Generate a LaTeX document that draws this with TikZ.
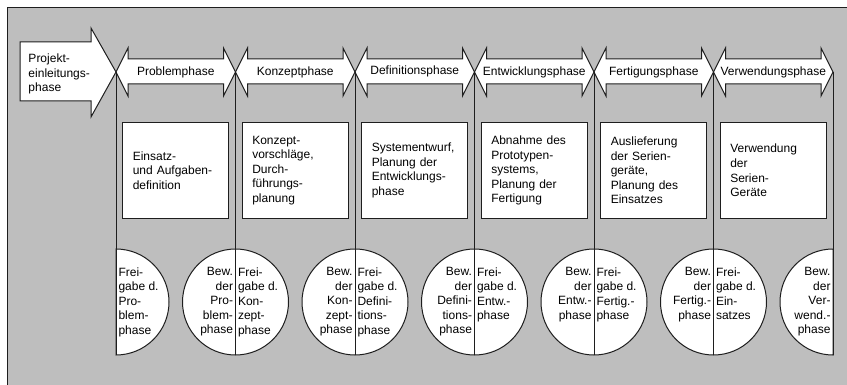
\documentclass[tikz,border=0pt]{standalone}
\usepackage{fontspec}
\setmainfont{Liberation Sans}
\definecolor{bg}{RGB}{190,190,190}
\definecolor{ln}{RGB}{30,30,30}
\begin{document}
\begin{tikzpicture}[x=0.75pt,y=-0.75pt,line width=0.75pt,
  every node/.style={font=\fontsize{9}{10.9}\selectfont,text=black},
  arrowshape/.style={draw=ln,fill=white,line join=miter},
  taskbox/.style={draw=ln,fill=white,minimum width=79.5pt,minimum height=71.25pt,text width=64.5pt,inner xsep=7.5pt,align=left},
  gatecircle/.style={draw=ln,fill=white},
  freitext/.style={anchor=north west,inner sep=0pt,align=left},
  bewtext/.style={anchor=north east,inner sep=0pt,align=right},
  phaselabel/.style={inner sep=0pt}]
\useasboundingbox (0,0) rectangle (847,385);
\fill[bg] (7,8) rectangle (847,385);
\draw[ln] (7,385) -- (7,8) -- (847,8);

% tips
\foreach \i in {0,...,6}{
  \pgfmathsetmacro\xx{116+119.5*\i}
  \coordinate (t\i) at (\xx,72);
  \coordinate (c\i) at (\xx,302);
  \coordinate (b\i) at (\xx,355);
}

% initial big arrow
\draw[arrowshape] (20,42) -- (91,42) -- (91,28) -- (116,72) -- (91,117) -- (91,101) -- (20,101) -- cycle;
\node[anchor=west,align=left,inner sep=0pt] (proj) at (28,74) {Projekt-\\einleitungs-\\phase};

% double arrows
\foreach \i in {0,...,5}{
  \pgfmathsetmacro\xa{116+119.5*\i}
  \pgfmathsetmacro\xb{\xa+119.5}
  \draw[arrowshape] (\xa,72) -- (\xa+12,48) -- (\xa+12,59) -- (\xb-12,59) -- (\xb-12,48) -- (\xb,72)
     -- (\xb-12,96) -- (\xb-12,84) -- (\xa+12,84) -- (\xa+12,96) -- cycle;
}
\node[phaselabel] (p0) at (175.75,72) {Problemphase};
\node[phaselabel] (p1) at (295.25,72) {Konzeptphase};
\node[phaselabel] (p2) at (414.75,71) {Definitionsphase};
\node[phaselabel] (p3) at (534.25,72) {Entwicklungsphase};
\node[phaselabel] (p4) at (653.75,72) {Fertigungsphase};
\node[phaselabel] (p5) at (773.25,72) {Verwendungsphase};

% task boxes
\node[taskbox] (box0) at (175.75,170.5) {Einsatz-\\und Aufgaben-\\definition};
\node[taskbox] (box1) at (295.25,170.5) {Konzept-\\vorschläge,\\Durch-\\führungs-\\planung};
\node[taskbox] (box2) at (414.75,170.5) {Systementwurf,\\Planung der\\Entwicklungs-\\phase};
\node[taskbox] (box3) at (534.25,170.5) {Abnahme des\\Prototypen-\\systems,\\Planung der\\Fertigung};
\node[taskbox] (box4) at (653.75,170.5) {Auslieferung\\der Serien-\\geräte,\\Planung des\\Einsatzes};
\node[taskbox] (box5) at (773.25,170.5) {Verwendung\\der\\Serien-\\Geräte};

% gate circles
\draw[gatecircle] (116,249) arc[start angle=90,end angle=-90,radius=39.75pt] -- cycle;
\foreach \i in {1,...,5}{
  \draw[gatecircle] (c\i) circle[radius=39.75pt];
}
\draw[gatecircle] (833,249) arc[start angle=90,end angle=270,radius=39.75pt] -- cycle;

% vertical lines
\foreach \i in {0,...,6}{
  \draw[ln] (t\i) -- (b\i);
}

% circle texts
\node[freitext] (f0) at (118,267) {Frei-\\gabe d.\\Pro-\\blem-\\phase};
\node[bewtext]  (w1) at (233.5,267) {Bew.\\der\\Pro-\\blem-\\phase};
\node[freitext] (f1) at (237.5,267) {Frei-\\gabe d.\\Kon-\\zept-\\phase};
\node[bewtext]  (w2) at (353,267) {Bew.\\der\\Kon-\\zept-\\phase};
\node[freitext] (f2) at (357,267) {Frei-\\gabe d.\\Defini-\\tions-\\phase};
\node[bewtext]  (w3) at (472.5,267) {Bew.\\der\\Defini-\\tions-\\phase};
\node[freitext] (f3) at (476.5,267) {Frei-\\gabe d.\\Entw.-\\phase};
\node[bewtext]  (w4) at (592,267) {Bew.\\der\\Entw.-\\phase};
\node[freitext] (f4) at (596,267) {Frei-\\gabe d.\\Fertig.-\\phase};
\node[bewtext]  (w5) at (711.5,267) {Bew.\\der\\Fertig.-\\phase};
\node[freitext] (f5) at (715.5,267) {Frei-\\gabe d.\\Ein-\\satzes};
\node[bewtext]  (w6) at (831,267) {Bew.\\der\\Ver-\\wend.-\\phase};
\end{tikzpicture}
\end{document}
